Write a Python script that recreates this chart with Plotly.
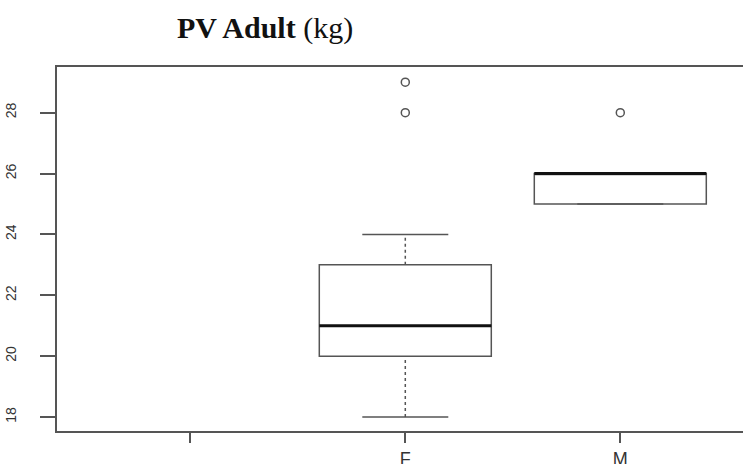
import plotly.graph_objects as go

# ---- data ----
categories = ["", "F", "M"]
groups = ["F", "M"]
q1 = [20, 25]
median = [21, 26]
q3 = [23, 26]
lower = [18, 25]
upper = [24, 26]
outlier_group = ["F", "F", "M"]
outlier_value = [28, 29, 28]
y_ticks = [18, 20, 22, 24, 26, 28]

pos = {c: i + 1 for i, c in enumerate(categories)}
BOXW = 0.8
CAPW = 0.4
LC = "#555555"

fig = go.Figure()

for g, a, m, b, lo, hi in zip(groups, q1, median, q3, lower, upper):
    p = pos[g]
    # dashed whiskers
    fig.add_trace(go.Scatter(x=[p, p, None, p, p], y=[lo, a, None, b, hi], mode="lines",
                             line=dict(color=LC, width=1.5, dash="3px,3px"),
                             showlegend=False, hoverinfo="skip"))
    # staples
    fig.add_trace(go.Scatter(x=[p - CAPW / 2, p + CAPW / 2, None, p - CAPW / 2, p + CAPW / 2],
                             y=[lo, lo, None, hi, hi], mode="lines",
                             line=dict(color=LC, width=1.5), showlegend=False, hoverinfo="skip"))
    # box
    fig.add_trace(go.Box(x=[p], q1=[a], median=[m], q3=[b], lowerfence=[a], upperfence=[b],
                         width=BOXW, fillcolor="white", line=dict(color=LC, width=1.5),
                         boxpoints=False, showlegend=False, name=g))
    # thick median
    fig.add_trace(go.Scatter(x=[p - BOXW / 2, p + BOXW / 2], y=[m, m], mode="lines",
                             line=dict(color="#111111", width=3), showlegend=False, hoverinfo="skip"))

fig.add_trace(go.Scatter(x=[pos[g] for g in outlier_group], y=outlier_value, mode="markers",
                         marker=dict(symbol="circle-open", size=8, color=LC, line=dict(width=1.5)),
                         showlegend=False))

fig.update_layout(
    width=743, height=464,
    margin=dict(l=57, r=0, t=67, b=33),
    paper_bgcolor="white", plot_bgcolor="white",
    title=dict(text="<b>PV Adult</b> (kg)", x=177 / 743, xanchor="left", xref="container",
               y=1 - 27 / 464, yanchor="middle", yref="container",
               font=dict(family="Liberation Serif", size=30, color="#111111")),
    xaxis=dict(range=[0.38, 0.38 + 686 / 215], tickmode="array", tickvals=[pos[c] for c in categories],
               ticktext=categories, showgrid=False, zeroline=False, showline=True, mirror=True,
               linecolor=LC, linewidth=2, ticks="outside", ticklen=10, tickwidth=1.5, tickcolor=LC,
               ticklabelstandoff=0, automargin=False,
               tickfont=dict(family="Liberation Sans", size=18, color="#333333")),
    yaxis=dict(range=[17.54, 29.5], tickvals=y_ticks, showgrid=False, zeroline=False, showline=True,
               linecolor=LC, linewidth=2, ticks="outside", ticklen=15, tickwidth=1.5, tickcolor=LC,
               tickangle=-90, ticklabelstandoff=18, automargin=False,
               tickfont=dict(family="Liberation Sans", size=14, color="#333333")),
)

fig.write_html("out.html", config={"displayModeBar": False},
               post_script="document.body.style.margin='0';")
